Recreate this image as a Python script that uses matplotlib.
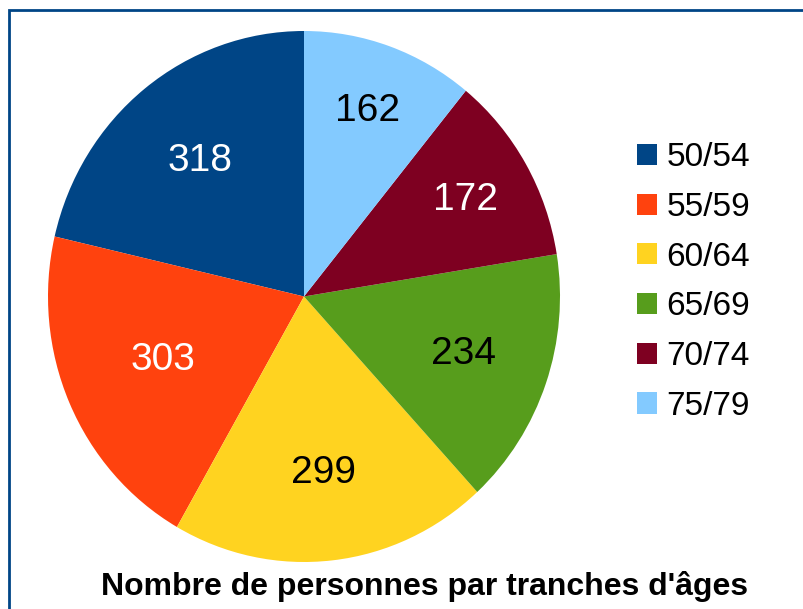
import matplotlib
matplotlib.use("Agg")
import matplotlib.pyplot as plt
from matplotlib.patches import Rectangle
import numpy as np

plt.rcParams["font.family"] = ["Liberation Sans", "DejaVu Sans"]

# ---------------------------------------------------------------------------
# Data
# ---------------------------------------------------------------------------
categories = ["50/54", "55/59", "60/64", "65/69", "70/74", "75/79"]
counts = [318, 303, 299, 234, 172, 162]
colors = ["#004586", "#ff420e", "#ffd320", "#579d1c", "#7e0021", "#83caff"]
label_colors = ["white", "white", "black", "black", "white", "black"]
label_radius = [0.65, 0.60, 0.67, 0.66, 0.73, 0.74]
title = "Nombre de personnes par tranches d'âges"

W, H = 804, 609
fig = plt.figure(figsize=(W / 100, H / 100), dpi=100)

# pie box in pixels (slightly taller than wide, like the original)
left, right, top, bottom = 48, 560, 31, 562
ax = fig.add_axes([left / W, 1 - bottom / H, (right - left) / W, (bottom - top) / H])

wedges, _ = ax.pie(counts, colors=colors, startangle=90, counterclock=True,
                   radius=1.0, wedgeprops=dict(linewidth=0))
ax.set_aspect("auto")
ax.set_xlim(-1, 1)
ax.set_ylim(-1, 1)

for w, n, c, r in zip(wedges, counts, label_colors, label_radius):
    mid = np.deg2rad((w.theta1 + w.theta2) / 2)
    ax.text(r * np.cos(mid), r * np.sin(mid), str(n), color=c, fontsize=28,
            ha="center", va="center")

fig.legend(wedges, categories, loc="center left",
           bbox_to_anchor=(637 / W, 1 - 282 / H), frameon=False,
           fontsize=24, handlelength=0.6, handleheight=0.6,
           handletextpad=0.28, labelspacing=0.56, borderaxespad=0,
           borderpad=0)

fig.text(425 / W, 1 - 587 / H, title, ha="center", va="center",
         fontsize=23, fontweight="bold")

# frame border, cut off at right and bottom as in the source
fig.patches.append(Rectangle((9 / W, -0.1), 1.2, 1.1 - 10.5 / H,
                             transform=fig.transFigure, fill=False,
                             edgecolor="#004586", linewidth=2))

fig.savefig("out.png", dpi=100)
